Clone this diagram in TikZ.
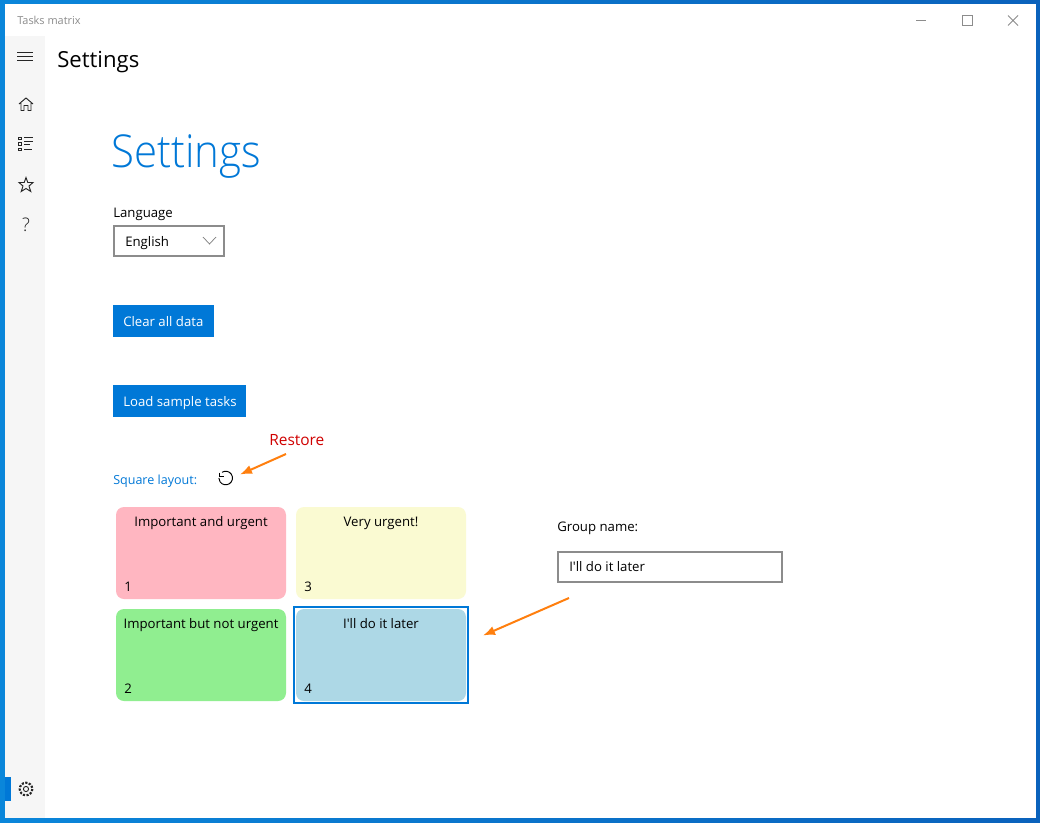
\documentclass[tikz,border=0pt]{standalone}
\usepackage{fontspec}
\usepackage{graphicx}
\setmainfont{Open Sans}
\newfontfamily\plainfont{Open Sans}
\newfontfamily\lightfont{Open Sans Light}
\usetikzlibrary{arrows.meta}
\definecolor{winblue}{HTML}{0078D7}
\definecolor{frameleft}{HTML}{0A86DA}
\definecolor{frameright}{HTML}{0A62BC}
\definecolor{orangearrow}{HTML}{FF7F0E}
\definecolor{restorered}{HTML}{D00000}
\definecolor{cardpink}{RGB}{255,182,193}
\definecolor{cardyellow}{RGB}{250,250,210}
\definecolor{cardgreen}{RGB}{144,238,144}
\definecolor{cardblue}{RGB}{173,216,230}
\newcommand{\fs}[1]{\fontsize{#1}{#1}\selectfont}
\tikzset{
 x=0.75pt,y=-0.75pt,
 txt/.style={inner sep=0pt,anchor=base west,text=black,font=\fs{9.9}},
 mid/.style={inner sep=0pt,anchor=base,text=black,font=\fs{9.9}},
 icon/.style={draw=black!85,line width=0.7pt},
 chrome/.style={draw=black!45,line width=0.75pt},
 card/.style={rounded corners=6pt},
 field/.style={draw=black!45,line width=1.5pt,fill=white},
 bluebtn/.style={fill=winblue},
 callout/.style={draw=orangearrow,line width=1.5pt,-{Latex[length=9pt,width=7pt]}},
}
\begin{document}
\begin{tikzpicture}
\useasboundingbox (0,0) rectangle (1040,822);
\shade[left color=frameleft,right color=frameright] (0,0) rectangle (1040,822);
\fill[white] (5,3.5) rectangle (1036,817.5);
\fill[black!3.5] (5,36) rectangle (45,817.5);
\fill[winblue] (5,777) rectangle (11,801);
% title bar
\node[txt,font=\fs{8.2},text=black!45] (apptitle) at (17,24) {Tasks matrix};
\draw[chrome] (916,20) -- (926,20);
\draw[chrome] (962.5,15.5) rectangle (972,25);
\draw[chrome] (1008,15.5) -- (1018,25.5) (1018,15.5) -- (1008,25.5);
% sidebar icons
\draw[icon,line width=0.55pt] (17,52) -- (33,52) (17,56) -- (33,56) (17,60) -- (33,60);
\draw[icon] (19,104) -- (26,98) -- (33,104) (21,103) -- (21,110.5) -- (24,110.5) -- (24,105.5) -- (28,105.5) -- (28,110.5) -- (31,110.5) -- (31,103);
\draw[icon] (18.5,137) rectangle (21,139.5) (18.5,142.5) rectangle (21,145) (18.5,148) rectangle (21,150.5);
\draw[icon] (24,137.5) -- (33,137.5) (24,141) -- (33,141) (24,144.5) -- (30,144.5) (24,149.5) -- (32,149.5);
\draw[icon] (26,177.5) -- (27.8,182.5) -- (33,182.5) -- (29,186) -- (30.8,191.5) -- (26,188.5) -- (21.2,191.5) -- (23,186) -- (19,182.5) -- (24.2,182.5) -- cycle;
\node[inner sep=0pt,anchor=base,font=\fs{14},text=black!90] (help) at (26,231) {\lightfont ?};
% gear
\draw[icon,fill=none] (26,789) circle (2.6);
\draw[icon,dash pattern=on 1.6pt off 1.1pt,line width=1.6pt] (26,789) circle (6.3);
% headings
\node[txt,font=\fs{16.6}] (pagetitle) at (57,67) {Settings};
\node[txt,font=\fs{34},text=winblue] (bigtitle) at (111,167) {\scalebox{0.925}[1]{\lightfont Settings}};
% language
\node[txt] (langlabel) at (113,217) {Language};
\draw[field] (114,226) rectangle (224,256);
\node[txt] (langvalue) at (125,246) {English};
\draw[black!50,line width=0.55pt] (203,237) -- (209.5,244) -- (216,237);
% buttons
\fill[bluebtn] (113,305) rectangle (214,337);
\node[txt,text=white] (cleartxt) at (123,326) {Clear all data};
\fill[bluebtn] (113,385) rectangle (246,417);
\node[txt,text=white] (loadtxt) at (123,406) {Load sample tasks};
% restore
\node[txt,font=\fs{11.6},text=restorered] (restore) at (269,445) {Restore};
\node[txt,font=\fs{9.4},text=winblue] (sqlayout) at (113,484) {Square layout:};
\draw[black,line width=0.7pt] (222,472.3) arc[start angle=237,end angle=540,radius=6.8];
\draw[black,line width=0.7pt] (219.3,472.5) -- (219.3,476.5) -- (223.5,476.5);
\coordinate (a1s) at (286,454);
\coordinate (a1e) at (240,474.5);
\draw[callout] (a1s) -- (a1e);
% cards
\fill[card,fill=cardpink] (116,507) rectangle (286,599);
\node[mid] (c1t) at (201,526) {Important and urgent};
\node[txt] (c1n) at (124,591) {1};
\fill[card,fill=cardyellow] (296,507) rectangle (466,599);
\node[mid] (c3t) at (381,526) {Very urgent!};
\node[txt] (c3n) at (304,591) {3};
\fill[card,fill=cardgreen] (116,609) rectangle (286,701);
\node[mid] (c2t) at (201,628) {Important but not urgent};
\node[txt] (c2n) at (124,693) {2};
\draw[winblue,line width=1.5pt] (294,607) rectangle (468,703);
\fill[card,fill=cardblue] (296,609) rectangle (466,701);
\node[mid] (c4t) at (381,628) {\plainfont I'll do it later};
\node[txt] (c4n) at (304,693) {4};
% group name
\node[txt] (grouplabel) at (557,531) {Group name:};
\draw[field] (558,552) rectangle (782,582);
\node[txt] (groupvalue) at (569,571) {\plainfont I'll do it later};
\coordinate (a2s) at (569,598);
\coordinate (a2e) at (483,635.5);
\draw[callout] (a2s) -- (a2e);
\end{tikzpicture}
\end{document}
